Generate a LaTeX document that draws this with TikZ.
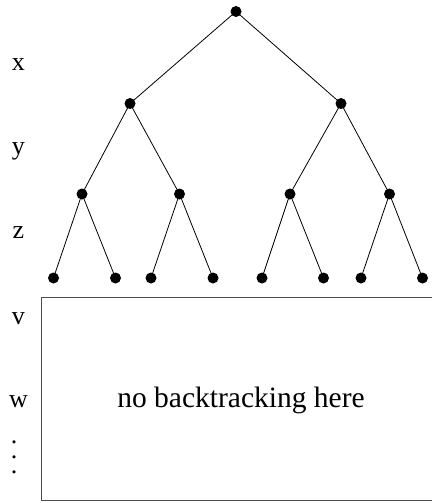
\documentclass[tikz,border=0pt]{standalone}
\usepackage{fontspec}
\setmainfont{Liberation Serif}
\begin{document}
\begin{tikzpicture}[x=1pt,y=-1pt,
  dot/.style={circle,fill=black,inner sep=0pt,minimum size=11pt},
  edge/.style={draw=black,line width=0.8pt},
  lbl/.style={font=\fontsize{26}{26}\selectfont,inner sep=0pt},
  boxline/.style={draw=black!70,line width=1pt}]
\useasboundingbox (0,0) rectangle (432,503);
% tree nodes
\node[dot] (r) at (236,11.5) {};
\node[dot] (a) at (130,103.5) {};
\node[dot] (b) at (341,103.5) {};
\node[dot] (a1) at (82,194) {};
\node[dot] (a2) at (179.5,194) {};
\node[dot] (b1) at (290,194) {};
\node[dot] (b2) at (389.5,194) {};
\node[dot] (l1) at (53.5,278) {};
\node[dot] (l2) at (115.5,278) {};
\node[dot] (l3) at (151,278) {};
\node[dot] (l4) at (213,278) {};
\node[dot] (l5) at (262,278) {};
\node[dot] (l6) at (323.5,278) {};
\node[dot] (l7) at (361,278) {};
\node[dot] (l8) at (422.5,278) {};
% edges
\draw[edge] (r.center) -- (a.center);
\draw[edge] (r.center) -- (b.center);
\draw[edge] (a.center) -- (a1.center);
\draw[edge] (a.center) -- (a2.center);
\draw[edge] (b.center) -- (b1.center);
\draw[edge] (b.center) -- (b2.center);
\draw[edge] (a1.center) -- (l1.center);
\draw[edge] (a1.center) -- (l2.center);
\draw[edge] (a2.center) -- (l3.center);
\draw[edge] (a2.center) -- (l4.center);
\draw[edge] (b1.center) -- (l5.center);
\draw[edge] (b1.center) -- (l6.center);
\draw[edge] (b2.center) -- (l7.center);
\draw[edge] (b2.center) -- (l8.center);
% level labels
\node[lbl] (lx) at (18.5,65) {x};
\node[lbl] (ly) at (18.5,151.5) {y};
\node[lbl] (lz) at (18.5,232.5) {z};
\node[lbl] (lv) at (18.5,318.5) {v};
\node[lbl] (lw) at (18.5,401.5) {w};
\node[inner sep=0pt] (vd) at (14,457) {\fontsize{26}{15}\selectfont\vbox{\baselineskip=15pt\lineskiplimit=-20pt\hbox{.}\hbox{.}\hbox{.}}};
% box
\coordinate (bt) at (432,297.5);
\coordinate (btl) at (41.5,297.5);
\coordinate (bbl) at (41.5,500.5);
\coordinate (bb) at (432,500.5);
\draw[boxline] (bt) -- (btl) -- (bbl) -- (bb);
\node[font=\fontsize{29.5}{29.5}\selectfont,inner sep=0pt] (txt) at (241,400.5) {no backtracking here};
\end{tikzpicture}
\end{document}
